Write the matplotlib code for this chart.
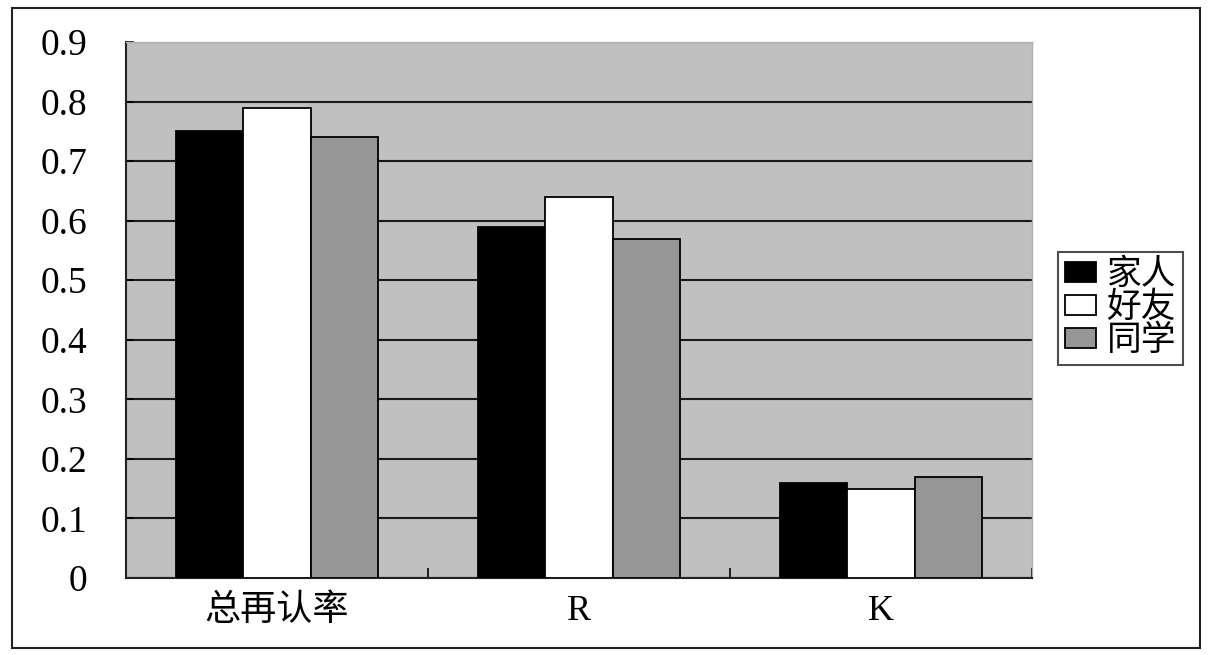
import matplotlib
matplotlib.use("Agg")
import matplotlib.pyplot as plt
import numpy as np
from matplotlib.patches import Rectangle

plt.rcParams['font.family'] = ['Liberation Serif', 'Noto Sans CJK SC', 'DejaVu Sans']

categories = ['总再认率', 'R', 'K']
series_names = ['家人', '好友', '同学']
family = [0.75, 0.59, 0.16]
friends = [0.79, 0.64, 0.15]
classmates = [0.74, 0.57, 0.17]
yticks = [0, 0.1, 0.2, 0.3, 0.4, 0.5, 0.6, 0.7, 0.8, 0.9]
ytick_labels = ['0', '0.1', '0.2', '0.3', '0.4', '0.5', '0.6', '0.7', '0.8', '0.9']

colors = ['#000000', '#ffffff', '#969696']

fig = plt.figure(figsize=(12.11, 6.55), dpi=100)
fig.patch.set_facecolor('white')
fig.patches.append(Rectangle((12/1211, 1-648/655), (1200-12)/1211, (648-8)/655,
                             transform=fig.transFigure, fill=False,
                             edgecolor='#222222', linewidth=1.5))

ax = fig.add_axes([126/1211, 1-578/655, (1032-126)/1211, (578-42)/655])
ax.set_facecolor('#c0c0c0')

x = np.arange(len(categories))
w = 0.224
for i, (vals, name) in enumerate(zip([family, friends, classmates], series_names)):
    ax.bar(x + (i-1)*w, vals, width=w, color=colors[i], edgecolor='black',
           linewidth=1.3, label=name, zorder=3)

ax.set_xlim(-0.5, 2.5)
ax.set_ylim(0, 0.9)
ax.set_yticks(yticks)
ax.set_yticklabels(ytick_labels, fontsize=27)
ax.yaxis.grid(True, color='#1a1a1a', linewidth=1.5, zorder=1)
ax.set_axisbelow(True)

ax.set_xticks(x)
ax.set_xticklabels(categories, fontsize=26)
ax.set_xticks(np.arange(-0.5, 2.6, 1.0), minor=True)
ax.tick_params(axis='x', which='major', length=0, pad=12)
ax.tick_params(axis='x', which='minor', direction='in', length=7, width=1.2)
ax.tick_params(axis='y', direction='in', length=6, width=1.2, pad=28)

for s in ['top', 'right']:
    ax.spines[s].set_color('#b0b0b0')
    ax.spines[s].set_linewidth(1)
for s in ['left', 'bottom']:
    ax.spines[s].set_color('#222222')
    ax.spines[s].set_linewidth(1.5)

leg = fig.legend(loc='upper left', bbox_to_anchor=(1058/1211, 1-252/655),
                 fontsize=25, frameon=True, fancybox=False, edgecolor='#222222',
                 handlelength=0.9, handleheight=0.5, handletextpad=0.3,
                 labelspacing=0.0, borderpad=0.2, borderaxespad=0)
leg.get_frame().set_linewidth(1.5)

fig.savefig('out.png', dpi=100)
